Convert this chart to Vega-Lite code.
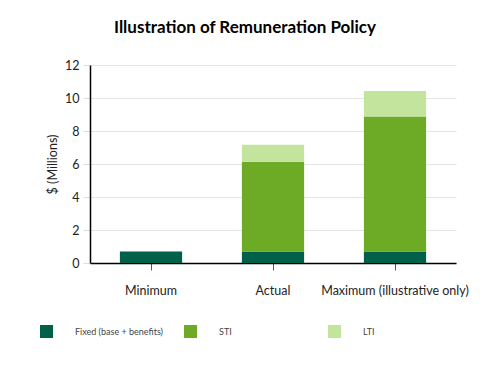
{
  "$schema": "https://vega.github.io/schema/vega-lite/v6.json",
  "width": 366,
  "height": 198,
  "autosize": {"type": "none"},
  "padding": {"left": 90, "top": 65, "right": 33, "bottom": 103},
  "background": "white",
  "title": {
    "text": "Illustration of Remuneration Policy",
    "font": "Lato",
    "fontSize": 17,
    "fontWeight": "bold",
    "color": "#000000",
    "anchor": "middle",
    "dx": -28,
    "offset": 22
  },
  "config": {
    "view": {"stroke": null},
    "font": "Lato"
  },
  "data": {
    "values": [
      {"scenario": "Minimum", "component": "Fixed (base + benefits)", "ord": 1, "value": 0.7},
      {"scenario": "Actual", "component": "Fixed (base + benefits)", "ord": 1, "value": 0.7},
      {"scenario": "Actual", "component": "STI", "ord": 2, "value": 5.43},
      {"scenario": "Actual", "component": "LTI", "ord": 3, "value": 1.03},
      {"scenario": "Maximum (illustrative only)", "component": "Fixed (base + benefits)", "ord": 1, "value": 0.7},
      {"scenario": "Maximum (illustrative only)", "component": "STI", "ord": 2, "value": 8.18},
      {"scenario": "Maximum (illustrative only)", "component": "LTI", "ord": 3, "value": 1.54}
    ]
  },
  "mark": {"type": "bar"},
  "encoding": {
    "x": {
      "field": "scenario",
      "type": "nominal",
      "sort": ["Minimum", "Actual", "Maximum (illustrative only)"],
      "scale": {"paddingInner": 0.49, "paddingOuter": 0.245},
      "axis": {
        "title": null,
        "labelAngle": 0,
        "labelFontSize": 12.5,
        "labelColor": "#222222",
        "labelPadding": 14,
        "tickSize": 7,
        "tickColor": "#555555",
        "tickWidth": 1,
        "domainColor": "#000000",
        "domainWidth": 1.5,
        "grid": false
      }
    },
    "y": {
      "field": "value",
      "type": "quantitative",
      "stack": "zero",
      "scale": {"domain": [0, 12]},
      "axis": {
        "title": "$ (Millions)",
        "titleFontSize": 12.5,
        "titleFontWeight": "normal",
        "titleColor": "#222222",
        "titlePadding": 5,
        "values": [0, 2, 4, 6, 8, 10, 12],
        "labelFontSize": 12.5,
        "labelColor": "#222222",
        "labelPadding": 4,
        "tickSize": 7,
        "tickColor": "#dddddd",
        "gridColor": "#e4e4e4",
        "domainColor": "#000000",
        "domainWidth": 1.5
      }
    },
    "color": {
      "field": "component",
      "type": "nominal",
      "scale": {
        "domain": ["Fixed (base + benefits)", "STI", "LTI"],
        "range": ["#00604A", "#6DAA25", "#C2E49D"]
      },
      "legend": {
        "title": null,
        "orient": "none",
        "legendX": -50,
        "legendY": 260,
        "direction": "horizontal",
        "columns": 3,
        "gridAlign": "all",
        "columnPadding": 20,
        "symbolType": "square",
        "symbolSize": 169,
        "symbolStrokeWidth": 0,
        "labelOffset": 22,
        "labelFontSize": 9,
        "labelColor": "#444444",
        "padding": 0
      }
    },
    "order": {"field": "ord", "type": "quantitative"}
  }
}
